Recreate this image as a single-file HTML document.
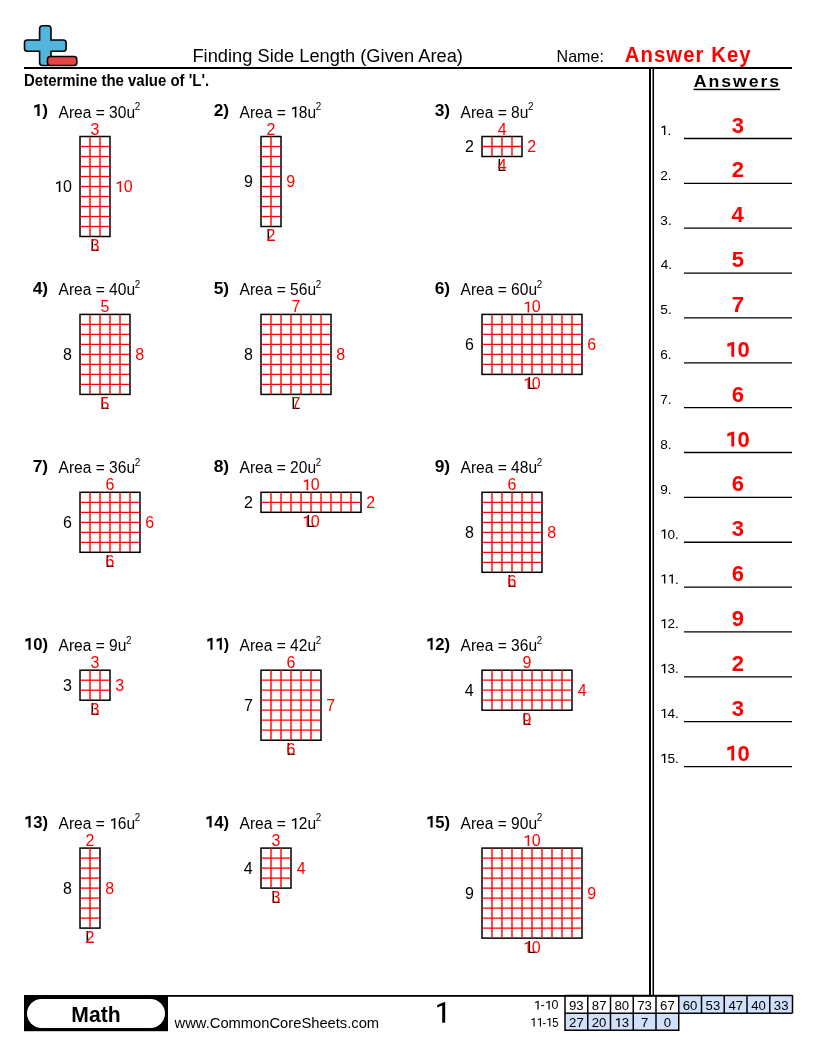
<!DOCTYPE html><html><head><meta charset="utf-8"><style>
html,body{margin:0;padding:0;background:#fff;}
body{width:816px;height:1056px;overflow:hidden;}
svg{display:block;font-family:"Liberation Sans",sans-serif;will-change:transform;}
</style></head><body>
<svg width="816" height="1056" viewBox="0 0 816 1056">
<path d="M42.6,25.8 h5.4 a3,3 0 0 1 3,3 v11.2 h12.3 a2.8,2.8 0 0 1 2.8,2.8 v5.7 a2.8,2.8 0 0 1 -2.8,2.8 h-12.3 v11.2 a3,3 0 0 1 -3,3 h-5.4 a3,3 0 0 1 -3,-3 v-11.2 h-12.3 a2.8,2.8 0 0 1 -2.8,-2.8 v-5.7 a2.8,2.8 0 0 1 2.8,-2.8 h12.3 v-11.2 a3,3 0 0 1 3,-3 z" fill="#52b5dc" stroke="#000" stroke-width="1.6"/>
<rect x="47.5" y="56.5" width="29.3" height="9" rx="2.8" fill="#e84444" stroke="#000" stroke-width="1.6"/>
<rect x="24.00" y="67.00" width="768.00" height="2.00" fill="#000"/>
<text x="192.44" y="61.80" font-size="19.20" fill="#000" textLength="270.50" lengthAdjust="spacingAndGlyphs">Finding Side Length (Given Area)</text>
<text x="556.62" y="62.00" font-size="16.20" fill="#000" textLength="47.23" lengthAdjust="spacingAndGlyphs">Name:</text>
<text transform="matrix(0.9100 0 0 1 624.79 62.00)" font-size="22.30" font-weight="bold" fill="#f00" letter-spacing="1.176">Answer Key</text>
<text x="24.03" y="85.60" font-size="16.40" font-weight="bold" fill="#000" textLength="185.18" lengthAdjust="spacingAndGlyphs">Determine the value of 'L'.</text>
<rect x="649.00" y="69.00" width="2.00" height="926.00" fill="#000"/>
<rect x="652.50" y="69.00" width="1.50" height="926.00" fill="#000"/>
<text transform="matrix(1.0400 0 0 1 693.66 87.30)" font-size="17.00" font-weight="bold" fill="#000" letter-spacing="1.893">Answers</text>
<rect x="693.50" y="88.70" width="86.70" height="1.50" fill="#000"/>
<line x1="684.00" y1="138.50" x2="792.00" y2="138.50" stroke="#000" stroke-width="1.30"/>
<path d="M665.32,134.90 V125.54 H664.91 L661.51,126.86 V128.13 L663.96,127.18 V134.90 Z" fill="#000"/>
<text x="659.88" y="134.90" font-size="13.60" fill="#000"> .</text>
<text x="731.80" y="132.50" font-size="22.00" font-weight="bold" fill="#f00">3</text>
<line x1="684.00" y1="183.36" x2="792.00" y2="183.36" stroke="#000" stroke-width="1.30"/>
<text x="660.22" y="179.76" font-size="13.60" fill="#000">2.</text>
<text x="731.75" y="177.36" font-size="22.00" font-weight="bold" fill="#f00">2</text>
<line x1="684.00" y1="228.22" x2="792.00" y2="228.22" stroke="#000" stroke-width="1.30"/>
<text x="660.36" y="224.62" font-size="13.60" fill="#000">3.</text>
<text x="731.58" y="222.22" font-size="22.00" font-weight="bold" fill="#f00">4</text>
<line x1="684.00" y1="273.08" x2="792.00" y2="273.08" stroke="#000" stroke-width="1.30"/>
<text x="660.63" y="269.48" font-size="13.60" fill="#000">4.</text>
<text x="731.64" y="267.08" font-size="22.00" font-weight="bold" fill="#f00">5</text>
<line x1="684.00" y1="317.94" x2="792.00" y2="317.94" stroke="#000" stroke-width="1.30"/>
<text x="660.36" y="314.34" font-size="13.60" fill="#000">5.</text>
<text x="731.69" y="311.94" font-size="22.00" font-weight="bold" fill="#f00">7</text>
<line x1="684.00" y1="362.80" x2="792.00" y2="362.80" stroke="#000" stroke-width="1.30"/>
<text x="660.22" y="359.20" font-size="13.60" fill="#000">6.</text>
<path d="M734.17,356.80 V341.66 H733.51 L727.35,343.42 V346.94 L731.31,345.18 V356.80 Z" fill="#f00"/>
<text x="725.37" y="356.80" font-size="22.00" font-weight="bold" fill="#f00"> 0</text>
<line x1="684.00" y1="407.66" x2="792.00" y2="407.66" stroke="#000" stroke-width="1.30"/>
<text x="660.22" y="404.06" font-size="13.60" fill="#000">7.</text>
<text x="731.69" y="401.66" font-size="22.00" font-weight="bold" fill="#f00">6</text>
<line x1="684.00" y1="452.52" x2="792.00" y2="452.52" stroke="#000" stroke-width="1.30"/>
<text x="660.29" y="448.92" font-size="13.60" fill="#000">8.</text>
<path d="M734.17,446.52 V431.38 H733.51 L727.35,433.14 V436.66 L731.31,434.90 V446.52 Z" fill="#f00"/>
<text x="725.37" y="446.52" font-size="22.00" font-weight="bold" fill="#f00"> 0</text>
<line x1="684.00" y1="497.38" x2="792.00" y2="497.38" stroke="#000" stroke-width="1.30"/>
<text x="660.29" y="493.78" font-size="13.60" fill="#000">9.</text>
<text x="731.69" y="491.38" font-size="22.00" font-weight="bold" fill="#f00">6</text>
<line x1="684.00" y1="542.24" x2="792.00" y2="542.24" stroke="#000" stroke-width="1.30"/>
<path d="M665.32,538.64 V529.28 H664.91 L661.51,530.60 V531.87 L663.96,530.92 V538.64 Z" fill="#000"/>
<text x="659.88" y="538.64" font-size="13.60" fill="#000"> 0.</text>
<text x="731.80" y="536.24" font-size="22.00" font-weight="bold" fill="#f00">3</text>
<line x1="684.00" y1="587.10" x2="792.00" y2="587.10" stroke="#000" stroke-width="1.30"/>
<path d="M665.32,583.50 V574.14 H664.91 L661.51,575.46 V576.73 L663.96,575.78 V583.50 Z" fill="#000"/>
<path d="M672.88,583.50 V574.14 H672.48 L669.08,575.46 V576.73 L671.52,575.78 V583.50 Z" fill="#000"/>
<text x="659.88" y="583.50" font-size="13.60" fill="#000">  .</text>
<text x="731.69" y="581.10" font-size="22.00" font-weight="bold" fill="#f00">6</text>
<line x1="684.00" y1="631.96" x2="792.00" y2="631.96" stroke="#000" stroke-width="1.30"/>
<path d="M665.32,628.36 V619.00 H664.91 L661.51,620.32 V621.59 L663.96,620.64 V628.36 Z" fill="#000"/>
<text x="659.88" y="628.36" font-size="13.60" fill="#000"> 2.</text>
<text x="731.69" y="625.96" font-size="22.00" font-weight="bold" fill="#f00">9</text>
<line x1="684.00" y1="676.82" x2="792.00" y2="676.82" stroke="#000" stroke-width="1.30"/>
<path d="M665.32,673.22 V663.86 H664.91 L661.51,665.18 V666.45 L663.96,665.50 V673.22 Z" fill="#000"/>
<text x="659.88" y="673.22" font-size="13.60" fill="#000"> 3.</text>
<text x="731.75" y="670.82" font-size="22.00" font-weight="bold" fill="#f00">2</text>
<line x1="684.00" y1="721.68" x2="792.00" y2="721.68" stroke="#000" stroke-width="1.30"/>
<path d="M665.32,718.08 V708.72 H664.91 L661.51,710.04 V711.31 L663.96,710.36 V718.08 Z" fill="#000"/>
<text x="659.88" y="718.08" font-size="13.60" fill="#000"> 4.</text>
<text x="731.80" y="715.68" font-size="22.00" font-weight="bold" fill="#f00">3</text>
<line x1="684.00" y1="766.54" x2="792.00" y2="766.54" stroke="#000" stroke-width="1.30"/>
<path d="M665.32,762.94 V753.58 H664.91 L661.51,754.90 V756.17 L663.96,755.22 V762.94 Z" fill="#000"/>
<text x="659.88" y="762.94" font-size="13.60" fill="#000"> 5.</text>
<path d="M734.17,760.54 V745.40 H733.51 L727.35,747.16 V750.68 L731.31,748.92 V760.54 Z" fill="#f00"/>
<text x="725.37" y="760.54" font-size="22.00" font-weight="bold" fill="#f00"> 0</text>
<path d="M39.59,116.00 V104.03 H39.07 L34.20,105.42 V108.20 L37.33,106.81 V116.00 Z" fill="#000"/>
<text x="32.63" y="116.00" font-size="17.40" font-weight="bold" fill="#000"> )</text>
<text x="58.50" y="117.50" font-size="16.00" fill="#000" textLength="76.60" lengthAdjust="spacingAndGlyphs">Area = 30u</text>
<text x="134.69" y="109.80" font-size="11.20" fill="#000" textLength="5.48" lengthAdjust="spacingAndGlyphs">2</text>
<rect x="80.00" y="136.50" width="30" height="100" fill="none" stroke="#000" stroke-width="1.5"/>
<line x1="90.00" y1="136.50" x2="90.00" y2="236.50" stroke="#f00" stroke-width="1.40"/>
<line x1="100.00" y1="136.50" x2="100.00" y2="236.50" stroke="#f00" stroke-width="1.40"/>
<line x1="80.00" y1="146.50" x2="110.00" y2="146.50" stroke="#f00" stroke-width="1.30"/>
<line x1="80.00" y1="156.50" x2="110.00" y2="156.50" stroke="#f00" stroke-width="1.30"/>
<line x1="80.00" y1="166.50" x2="110.00" y2="166.50" stroke="#f00" stroke-width="1.30"/>
<line x1="80.00" y1="176.50" x2="110.00" y2="176.50" stroke="#f00" stroke-width="1.30"/>
<line x1="80.00" y1="186.50" x2="110.00" y2="186.50" stroke="#f00" stroke-width="1.30"/>
<line x1="80.00" y1="196.50" x2="110.00" y2="196.50" stroke="#f00" stroke-width="1.30"/>
<line x1="80.00" y1="206.50" x2="110.00" y2="206.50" stroke="#f00" stroke-width="1.30"/>
<line x1="80.00" y1="216.50" x2="110.00" y2="216.50" stroke="#f00" stroke-width="1.30"/>
<line x1="80.00" y1="226.50" x2="110.00" y2="226.50" stroke="#f00" stroke-width="1.30"/>
<text x="90.56" y="134.50" font-size="16.00" fill="#f00">3</text>
<path d="M60.40,192.10 V181.09 H59.92 L55.92,182.64 V184.13 L58.80,183.01 V192.10 Z" fill="#000"/>
<text x="54.00" y="192.10" font-size="16.00" fill="#000"> 0</text>
<path d="M121.20,192.10 V181.09 H120.72 L116.72,182.64 V184.13 L119.60,183.01 V192.10 Z" fill="#f00"/>
<text x="114.80" y="192.10" font-size="16.00" fill="#f00"> 0</text>
<text x="90.16" y="251.00" font-size="16.00" fill="#000">L</text>
<text x="90.56" y="251.00" font-size="16.00" fill="#f00">3</text>
<text x="213.63" y="116.00" font-size="17.40" font-weight="bold" fill="#000">2)</text>
<path d="M296.35,117.50 V106.49 H295.89 L291.99,108.04 V109.53 L294.80,108.41 V117.50 Z" fill="#000"/>
<text x="239.50" y="117.50" font-size="16.00" fill="#000" textLength="76.60" lengthAdjust="spacingAndGlyphs">Area =  8u</text>
<text x="315.69" y="109.80" font-size="11.20" fill="#000" textLength="5.48" lengthAdjust="spacingAndGlyphs">2</text>
<rect x="261.00" y="136.50" width="20" height="90" fill="none" stroke="#000" stroke-width="1.5"/>
<line x1="271.00" y1="136.50" x2="271.00" y2="226.50" stroke="#f00" stroke-width="1.40"/>
<line x1="261.00" y1="146.50" x2="281.00" y2="146.50" stroke="#f00" stroke-width="1.30"/>
<line x1="261.00" y1="156.50" x2="281.00" y2="156.50" stroke="#f00" stroke-width="1.30"/>
<line x1="261.00" y1="166.50" x2="281.00" y2="166.50" stroke="#f00" stroke-width="1.30"/>
<line x1="261.00" y1="176.50" x2="281.00" y2="176.50" stroke="#f00" stroke-width="1.30"/>
<line x1="261.00" y1="186.50" x2="281.00" y2="186.50" stroke="#f00" stroke-width="1.30"/>
<line x1="261.00" y1="196.50" x2="281.00" y2="196.50" stroke="#f00" stroke-width="1.30"/>
<line x1="261.00" y1="206.50" x2="281.00" y2="206.50" stroke="#f00" stroke-width="1.30"/>
<line x1="261.00" y1="216.50" x2="281.00" y2="216.50" stroke="#f00" stroke-width="1.30"/>
<text x="266.56" y="134.50" font-size="16.00" fill="#f00">2</text>
<text x="244.04" y="187.10" font-size="16.00" fill="#000">9</text>
<text x="286.28" y="187.10" font-size="16.00" fill="#f00">9</text>
<text x="266.16" y="241.00" font-size="16.00" fill="#000">L</text>
<text x="266.56" y="241.00" font-size="16.00" fill="#f00">2</text>
<text x="434.63" y="116.00" font-size="17.40" font-weight="bold" fill="#000">3)</text>
<text x="460.50" y="117.50" font-size="16.00" fill="#000" textLength="67.94" lengthAdjust="spacingAndGlyphs">Area = 8u</text>
<text x="528.05" y="109.80" font-size="11.20" fill="#000" textLength="5.48" lengthAdjust="spacingAndGlyphs">2</text>
<rect x="482.00" y="136.50" width="40" height="20" fill="none" stroke="#000" stroke-width="1.5"/>
<line x1="492.00" y1="136.50" x2="492.00" y2="156.50" stroke="#f00" stroke-width="1.40"/>
<line x1="502.00" y1="136.50" x2="502.00" y2="156.50" stroke="#f00" stroke-width="1.40"/>
<line x1="512.00" y1="136.50" x2="512.00" y2="156.50" stroke="#f00" stroke-width="1.40"/>
<line x1="482.00" y1="146.50" x2="522.00" y2="146.50" stroke="#f00" stroke-width="1.30"/>
<text x="497.64" y="134.50" font-size="16.00" fill="#f00">4</text>
<text x="465.12" y="152.10" font-size="16.00" fill="#000">2</text>
<text x="527.20" y="152.10" font-size="16.00" fill="#f00">2</text>
<text x="497.16" y="171.00" font-size="16.00" fill="#000">L</text>
<text x="497.64" y="171.00" font-size="16.00" fill="#f00">4</text>
<text x="32.63" y="293.90" font-size="17.40" font-weight="bold" fill="#000">4)</text>
<text x="58.50" y="295.40" font-size="16.00" fill="#000" textLength="76.60" lengthAdjust="spacingAndGlyphs">Area = 40u</text>
<text x="134.69" y="287.70" font-size="11.20" fill="#000" textLength="5.48" lengthAdjust="spacingAndGlyphs">2</text>
<rect x="80.00" y="314.40" width="50" height="80" fill="none" stroke="#000" stroke-width="1.5"/>
<line x1="90.00" y1="314.40" x2="90.00" y2="394.40" stroke="#f00" stroke-width="1.40"/>
<line x1="100.00" y1="314.40" x2="100.00" y2="394.40" stroke="#f00" stroke-width="1.40"/>
<line x1="110.00" y1="314.40" x2="110.00" y2="394.40" stroke="#f00" stroke-width="1.40"/>
<line x1="120.00" y1="314.40" x2="120.00" y2="394.40" stroke="#f00" stroke-width="1.40"/>
<line x1="80.00" y1="324.40" x2="130.00" y2="324.40" stroke="#f00" stroke-width="1.30"/>
<line x1="80.00" y1="334.40" x2="130.00" y2="334.40" stroke="#f00" stroke-width="1.30"/>
<line x1="80.00" y1="344.40" x2="130.00" y2="344.40" stroke="#f00" stroke-width="1.30"/>
<line x1="80.00" y1="354.40" x2="130.00" y2="354.40" stroke="#f00" stroke-width="1.30"/>
<line x1="80.00" y1="364.40" x2="130.00" y2="364.40" stroke="#f00" stroke-width="1.30"/>
<line x1="80.00" y1="374.40" x2="130.00" y2="374.40" stroke="#f00" stroke-width="1.30"/>
<line x1="80.00" y1="384.40" x2="130.00" y2="384.40" stroke="#f00" stroke-width="1.30"/>
<text x="100.56" y="312.40" font-size="16.00" fill="#f00">5</text>
<text x="62.96" y="360.00" font-size="16.00" fill="#000">8</text>
<text x="135.28" y="360.00" font-size="16.00" fill="#f00">8</text>
<text x="100.16" y="408.90" font-size="16.00" fill="#000">L</text>
<text x="100.56" y="408.90" font-size="16.00" fill="#f00">5</text>
<text x="213.63" y="293.90" font-size="17.40" font-weight="bold" fill="#000">5)</text>
<text x="239.50" y="295.40" font-size="16.00" fill="#000" textLength="76.60" lengthAdjust="spacingAndGlyphs">Area = 56u</text>
<text x="315.69" y="287.70" font-size="11.20" fill="#000" textLength="5.48" lengthAdjust="spacingAndGlyphs">2</text>
<rect x="261.00" y="314.40" width="70" height="80" fill="none" stroke="#000" stroke-width="1.5"/>
<line x1="271.00" y1="314.40" x2="271.00" y2="394.40" stroke="#f00" stroke-width="1.40"/>
<line x1="281.00" y1="314.40" x2="281.00" y2="394.40" stroke="#f00" stroke-width="1.40"/>
<line x1="291.00" y1="314.40" x2="291.00" y2="394.40" stroke="#f00" stroke-width="1.40"/>
<line x1="301.00" y1="314.40" x2="301.00" y2="394.40" stroke="#f00" stroke-width="1.40"/>
<line x1="311.00" y1="314.40" x2="311.00" y2="394.40" stroke="#f00" stroke-width="1.40"/>
<line x1="321.00" y1="314.40" x2="321.00" y2="394.40" stroke="#f00" stroke-width="1.40"/>
<line x1="261.00" y1="324.40" x2="331.00" y2="324.40" stroke="#f00" stroke-width="1.30"/>
<line x1="261.00" y1="334.40" x2="331.00" y2="334.40" stroke="#f00" stroke-width="1.30"/>
<line x1="261.00" y1="344.40" x2="331.00" y2="344.40" stroke="#f00" stroke-width="1.30"/>
<line x1="261.00" y1="354.40" x2="331.00" y2="354.40" stroke="#f00" stroke-width="1.30"/>
<line x1="261.00" y1="364.40" x2="331.00" y2="364.40" stroke="#f00" stroke-width="1.30"/>
<line x1="261.00" y1="374.40" x2="331.00" y2="374.40" stroke="#f00" stroke-width="1.30"/>
<line x1="261.00" y1="384.40" x2="331.00" y2="384.40" stroke="#f00" stroke-width="1.30"/>
<text x="291.56" y="312.40" font-size="16.00" fill="#f00">7</text>
<text x="243.96" y="360.00" font-size="16.00" fill="#000">8</text>
<text x="336.28" y="360.00" font-size="16.00" fill="#f00">8</text>
<text x="291.16" y="408.90" font-size="16.00" fill="#000">L</text>
<text x="291.56" y="408.90" font-size="16.00" fill="#f00">7</text>
<text x="434.63" y="293.90" font-size="17.40" font-weight="bold" fill="#000">6)</text>
<text x="460.50" y="295.40" font-size="16.00" fill="#000" textLength="76.60" lengthAdjust="spacingAndGlyphs">Area = 60u</text>
<text x="536.69" y="287.70" font-size="11.20" fill="#000" textLength="5.48" lengthAdjust="spacingAndGlyphs">2</text>
<rect x="482.00" y="314.40" width="100" height="60" fill="none" stroke="#000" stroke-width="1.5"/>
<line x1="492.00" y1="314.40" x2="492.00" y2="374.40" stroke="#f00" stroke-width="1.40"/>
<line x1="502.00" y1="314.40" x2="502.00" y2="374.40" stroke="#f00" stroke-width="1.40"/>
<line x1="512.00" y1="314.40" x2="512.00" y2="374.40" stroke="#f00" stroke-width="1.40"/>
<line x1="522.00" y1="314.40" x2="522.00" y2="374.40" stroke="#f00" stroke-width="1.40"/>
<line x1="532.00" y1="314.40" x2="532.00" y2="374.40" stroke="#f00" stroke-width="1.40"/>
<line x1="542.00" y1="314.40" x2="542.00" y2="374.40" stroke="#f00" stroke-width="1.40"/>
<line x1="552.00" y1="314.40" x2="552.00" y2="374.40" stroke="#f00" stroke-width="1.40"/>
<line x1="562.00" y1="314.40" x2="562.00" y2="374.40" stroke="#f00" stroke-width="1.40"/>
<line x1="572.00" y1="314.40" x2="572.00" y2="374.40" stroke="#f00" stroke-width="1.40"/>
<line x1="482.00" y1="324.40" x2="582.00" y2="324.40" stroke="#f00" stroke-width="1.30"/>
<line x1="482.00" y1="334.40" x2="582.00" y2="334.40" stroke="#f00" stroke-width="1.30"/>
<line x1="482.00" y1="344.40" x2="582.00" y2="344.40" stroke="#f00" stroke-width="1.30"/>
<line x1="482.00" y1="354.40" x2="582.00" y2="354.40" stroke="#f00" stroke-width="1.30"/>
<line x1="482.00" y1="364.40" x2="582.00" y2="364.40" stroke="#f00" stroke-width="1.30"/>
<path d="M529.20,312.40 V301.39 H528.72 L524.72,302.94 V304.43 L527.60,303.31 V312.40 Z" fill="#f00"/>
<text x="522.80" y="312.40" font-size="16.00" fill="#f00"> 0</text>
<text x="464.96" y="350.00" font-size="16.00" fill="#000">6</text>
<text x="587.20" y="350.00" font-size="16.00" fill="#f00">6</text>
<text x="527.16" y="388.90" font-size="16.00" fill="#000">L</text>
<path d="M529.20,388.90 V377.89 H528.72 L524.72,379.44 V380.93 L527.60,379.81 V388.90 Z" fill="#f00"/>
<text x="522.80" y="388.90" font-size="16.00" fill="#f00"> 0</text>
<text x="32.63" y="471.80" font-size="17.40" font-weight="bold" fill="#000">7)</text>
<text x="58.50" y="473.30" font-size="16.00" fill="#000" textLength="76.60" lengthAdjust="spacingAndGlyphs">Area = 36u</text>
<text x="134.69" y="465.60" font-size="11.20" fill="#000" textLength="5.48" lengthAdjust="spacingAndGlyphs">2</text>
<rect x="80.00" y="492.30" width="60" height="60" fill="none" stroke="#000" stroke-width="1.5"/>
<line x1="90.00" y1="492.30" x2="90.00" y2="552.30" stroke="#f00" stroke-width="1.40"/>
<line x1="100.00" y1="492.30" x2="100.00" y2="552.30" stroke="#f00" stroke-width="1.40"/>
<line x1="110.00" y1="492.30" x2="110.00" y2="552.30" stroke="#f00" stroke-width="1.40"/>
<line x1="120.00" y1="492.30" x2="120.00" y2="552.30" stroke="#f00" stroke-width="1.40"/>
<line x1="130.00" y1="492.30" x2="130.00" y2="552.30" stroke="#f00" stroke-width="1.40"/>
<line x1="80.00" y1="502.30" x2="140.00" y2="502.30" stroke="#f00" stroke-width="1.30"/>
<line x1="80.00" y1="512.30" x2="140.00" y2="512.30" stroke="#f00" stroke-width="1.30"/>
<line x1="80.00" y1="522.30" x2="140.00" y2="522.30" stroke="#f00" stroke-width="1.30"/>
<line x1="80.00" y1="532.30" x2="140.00" y2="532.30" stroke="#f00" stroke-width="1.30"/>
<line x1="80.00" y1="542.30" x2="140.00" y2="542.30" stroke="#f00" stroke-width="1.30"/>
<text x="105.48" y="490.30" font-size="16.00" fill="#f00">6</text>
<text x="62.96" y="527.90" font-size="16.00" fill="#000">6</text>
<text x="145.20" y="527.90" font-size="16.00" fill="#f00">6</text>
<text x="105.16" y="566.80" font-size="16.00" fill="#000">L</text>
<text x="105.48" y="566.80" font-size="16.00" fill="#f00">6</text>
<text x="213.63" y="471.80" font-size="17.40" font-weight="bold" fill="#000">8)</text>
<text x="239.50" y="473.30" font-size="16.00" fill="#000" textLength="76.60" lengthAdjust="spacingAndGlyphs">Area = 20u</text>
<text x="315.69" y="465.60" font-size="11.20" fill="#000" textLength="5.48" lengthAdjust="spacingAndGlyphs">2</text>
<rect x="261.00" y="492.30" width="100" height="20" fill="none" stroke="#000" stroke-width="1.5"/>
<line x1="271.00" y1="492.30" x2="271.00" y2="512.30" stroke="#f00" stroke-width="1.40"/>
<line x1="281.00" y1="492.30" x2="281.00" y2="512.30" stroke="#f00" stroke-width="1.40"/>
<line x1="291.00" y1="492.30" x2="291.00" y2="512.30" stroke="#f00" stroke-width="1.40"/>
<line x1="301.00" y1="492.30" x2="301.00" y2="512.30" stroke="#f00" stroke-width="1.40"/>
<line x1="311.00" y1="492.30" x2="311.00" y2="512.30" stroke="#f00" stroke-width="1.40"/>
<line x1="321.00" y1="492.30" x2="321.00" y2="512.30" stroke="#f00" stroke-width="1.40"/>
<line x1="331.00" y1="492.30" x2="331.00" y2="512.30" stroke="#f00" stroke-width="1.40"/>
<line x1="341.00" y1="492.30" x2="341.00" y2="512.30" stroke="#f00" stroke-width="1.40"/>
<line x1="351.00" y1="492.30" x2="351.00" y2="512.30" stroke="#f00" stroke-width="1.40"/>
<line x1="261.00" y1="502.30" x2="361.00" y2="502.30" stroke="#f00" stroke-width="1.30"/>
<path d="M308.20,490.30 V479.29 H307.72 L303.72,480.84 V482.33 L306.60,481.21 V490.30 Z" fill="#f00"/>
<text x="301.80" y="490.30" font-size="16.00" fill="#f00"> 0</text>
<text x="244.12" y="507.90" font-size="16.00" fill="#000">2</text>
<text x="366.20" y="507.90" font-size="16.00" fill="#f00">2</text>
<text x="306.16" y="526.80" font-size="16.00" fill="#000">L</text>
<path d="M308.20,526.80 V515.79 H307.72 L303.72,517.34 V518.83 L306.60,517.71 V526.80 Z" fill="#f00"/>
<text x="301.80" y="526.80" font-size="16.00" fill="#f00"> 0</text>
<text x="434.63" y="471.80" font-size="17.40" font-weight="bold" fill="#000">9)</text>
<text x="460.50" y="473.30" font-size="16.00" fill="#000" textLength="76.60" lengthAdjust="spacingAndGlyphs">Area = 48u</text>
<text x="536.69" y="465.60" font-size="11.20" fill="#000" textLength="5.48" lengthAdjust="spacingAndGlyphs">2</text>
<rect x="482.00" y="492.30" width="60" height="80" fill="none" stroke="#000" stroke-width="1.5"/>
<line x1="492.00" y1="492.30" x2="492.00" y2="572.30" stroke="#f00" stroke-width="1.40"/>
<line x1="502.00" y1="492.30" x2="502.00" y2="572.30" stroke="#f00" stroke-width="1.40"/>
<line x1="512.00" y1="492.30" x2="512.00" y2="572.30" stroke="#f00" stroke-width="1.40"/>
<line x1="522.00" y1="492.30" x2="522.00" y2="572.30" stroke="#f00" stroke-width="1.40"/>
<line x1="532.00" y1="492.30" x2="532.00" y2="572.30" stroke="#f00" stroke-width="1.40"/>
<line x1="482.00" y1="502.30" x2="542.00" y2="502.30" stroke="#f00" stroke-width="1.30"/>
<line x1="482.00" y1="512.30" x2="542.00" y2="512.30" stroke="#f00" stroke-width="1.30"/>
<line x1="482.00" y1="522.30" x2="542.00" y2="522.30" stroke="#f00" stroke-width="1.30"/>
<line x1="482.00" y1="532.30" x2="542.00" y2="532.30" stroke="#f00" stroke-width="1.30"/>
<line x1="482.00" y1="542.30" x2="542.00" y2="542.30" stroke="#f00" stroke-width="1.30"/>
<line x1="482.00" y1="552.30" x2="542.00" y2="552.30" stroke="#f00" stroke-width="1.30"/>
<line x1="482.00" y1="562.30" x2="542.00" y2="562.30" stroke="#f00" stroke-width="1.30"/>
<text x="507.48" y="490.30" font-size="16.00" fill="#f00">6</text>
<text x="464.96" y="537.90" font-size="16.00" fill="#000">8</text>
<text x="547.28" y="537.90" font-size="16.00" fill="#f00">8</text>
<text x="507.16" y="586.80" font-size="16.00" fill="#000">L</text>
<text x="507.48" y="586.80" font-size="16.00" fill="#f00">6</text>
<path d="M30.63,649.70 V637.73 H30.13 L25.45,639.12 V641.90 L28.46,640.51 V649.70 Z" fill="#000"/>
<text x="23.95" y="649.70" font-size="17.40" font-weight="bold" fill="#000" textLength="24.14" lengthAdjust="spacingAndGlyphs"> 0)</text>
<text x="58.50" y="651.20" font-size="16.00" fill="#000" textLength="67.94" lengthAdjust="spacingAndGlyphs">Area = 9u</text>
<text x="126.05" y="643.50" font-size="11.20" fill="#000" textLength="5.48" lengthAdjust="spacingAndGlyphs">2</text>
<rect x="80.00" y="670.20" width="30" height="30" fill="none" stroke="#000" stroke-width="1.5"/>
<line x1="90.00" y1="670.20" x2="90.00" y2="700.20" stroke="#f00" stroke-width="1.40"/>
<line x1="100.00" y1="670.20" x2="100.00" y2="700.20" stroke="#f00" stroke-width="1.40"/>
<line x1="80.00" y1="680.20" x2="110.00" y2="680.20" stroke="#f00" stroke-width="1.30"/>
<line x1="80.00" y1="690.20" x2="110.00" y2="690.20" stroke="#f00" stroke-width="1.30"/>
<text x="90.56" y="668.20" font-size="16.00" fill="#f00">3</text>
<text x="62.96" y="690.80" font-size="16.00" fill="#000">3</text>
<text x="115.36" y="690.80" font-size="16.00" fill="#f00">3</text>
<text x="90.16" y="714.70" font-size="16.00" fill="#000">L</text>
<text x="90.56" y="714.70" font-size="16.00" fill="#f00">3</text>
<path d="M212.55,649.70 V637.73 H212.05 L207.37,639.12 V641.90 L210.38,640.51 V649.70 Z" fill="#000"/>
<path d="M221.84,649.70 V637.73 H221.34 L216.66,639.12 V641.90 L219.67,640.51 V649.70 Z" fill="#000"/>
<text x="205.87" y="649.70" font-size="17.40" font-weight="bold" fill="#000" textLength="23.22" lengthAdjust="spacingAndGlyphs">  )</text>
<text x="239.50" y="651.20" font-size="16.00" fill="#000" textLength="76.60" lengthAdjust="spacingAndGlyphs">Area = 42u</text>
<text x="315.69" y="643.50" font-size="11.20" fill="#000" textLength="5.48" lengthAdjust="spacingAndGlyphs">2</text>
<rect x="261.00" y="670.20" width="60" height="70" fill="none" stroke="#000" stroke-width="1.5"/>
<line x1="271.00" y1="670.20" x2="271.00" y2="740.20" stroke="#f00" stroke-width="1.40"/>
<line x1="281.00" y1="670.20" x2="281.00" y2="740.20" stroke="#f00" stroke-width="1.40"/>
<line x1="291.00" y1="670.20" x2="291.00" y2="740.20" stroke="#f00" stroke-width="1.40"/>
<line x1="301.00" y1="670.20" x2="301.00" y2="740.20" stroke="#f00" stroke-width="1.40"/>
<line x1="311.00" y1="670.20" x2="311.00" y2="740.20" stroke="#f00" stroke-width="1.40"/>
<line x1="261.00" y1="680.20" x2="321.00" y2="680.20" stroke="#f00" stroke-width="1.30"/>
<line x1="261.00" y1="690.20" x2="321.00" y2="690.20" stroke="#f00" stroke-width="1.30"/>
<line x1="261.00" y1="700.20" x2="321.00" y2="700.20" stroke="#f00" stroke-width="1.30"/>
<line x1="261.00" y1="710.20" x2="321.00" y2="710.20" stroke="#f00" stroke-width="1.30"/>
<line x1="261.00" y1="720.20" x2="321.00" y2="720.20" stroke="#f00" stroke-width="1.30"/>
<line x1="261.00" y1="730.20" x2="321.00" y2="730.20" stroke="#f00" stroke-width="1.30"/>
<text x="286.48" y="668.20" font-size="16.00" fill="#f00">6</text>
<text x="244.12" y="710.80" font-size="16.00" fill="#000">7</text>
<text x="326.20" y="710.80" font-size="16.00" fill="#f00">7</text>
<text x="286.16" y="754.70" font-size="16.00" fill="#000">L</text>
<text x="286.48" y="754.70" font-size="16.00" fill="#f00">6</text>
<path d="M432.63,649.70 V637.73 H432.13 L427.45,639.12 V641.90 L430.46,640.51 V649.70 Z" fill="#000"/>
<text x="425.95" y="649.70" font-size="17.40" font-weight="bold" fill="#000" textLength="24.14" lengthAdjust="spacingAndGlyphs"> 2)</text>
<text x="460.50" y="651.20" font-size="16.00" fill="#000" textLength="76.60" lengthAdjust="spacingAndGlyphs">Area = 36u</text>
<text x="536.69" y="643.50" font-size="11.20" fill="#000" textLength="5.48" lengthAdjust="spacingAndGlyphs">2</text>
<rect x="482.00" y="670.20" width="90" height="40" fill="none" stroke="#000" stroke-width="1.5"/>
<line x1="492.00" y1="670.20" x2="492.00" y2="710.20" stroke="#f00" stroke-width="1.40"/>
<line x1="502.00" y1="670.20" x2="502.00" y2="710.20" stroke="#f00" stroke-width="1.40"/>
<line x1="512.00" y1="670.20" x2="512.00" y2="710.20" stroke="#f00" stroke-width="1.40"/>
<line x1="522.00" y1="670.20" x2="522.00" y2="710.20" stroke="#f00" stroke-width="1.40"/>
<line x1="532.00" y1="670.20" x2="532.00" y2="710.20" stroke="#f00" stroke-width="1.40"/>
<line x1="542.00" y1="670.20" x2="542.00" y2="710.20" stroke="#f00" stroke-width="1.40"/>
<line x1="552.00" y1="670.20" x2="552.00" y2="710.20" stroke="#f00" stroke-width="1.40"/>
<line x1="562.00" y1="670.20" x2="562.00" y2="710.20" stroke="#f00" stroke-width="1.40"/>
<line x1="482.00" y1="680.20" x2="572.00" y2="680.20" stroke="#f00" stroke-width="1.30"/>
<line x1="482.00" y1="690.20" x2="572.00" y2="690.20" stroke="#f00" stroke-width="1.30"/>
<line x1="482.00" y1="700.20" x2="572.00" y2="700.20" stroke="#f00" stroke-width="1.30"/>
<text x="522.56" y="668.20" font-size="16.00" fill="#f00">9</text>
<text x="464.80" y="695.80" font-size="16.00" fill="#000">4</text>
<text x="577.68" y="695.80" font-size="16.00" fill="#f00">4</text>
<text x="522.16" y="724.70" font-size="16.00" fill="#000">L</text>
<text x="522.56" y="724.70" font-size="16.00" fill="#f00">9</text>
<path d="M30.63,827.60 V815.63 H30.13 L25.45,817.02 V819.80 L28.46,818.41 V827.60 Z" fill="#000"/>
<text x="23.95" y="827.60" font-size="17.40" font-weight="bold" fill="#000" textLength="24.14" lengthAdjust="spacingAndGlyphs"> 3)</text>
<path d="M115.35,829.10 V818.09 H114.89 L110.99,819.64 V821.13 L113.80,820.01 V829.10 Z" fill="#000"/>
<text x="58.50" y="829.10" font-size="16.00" fill="#000" textLength="76.60" lengthAdjust="spacingAndGlyphs">Area =  6u</text>
<text x="134.69" y="821.40" font-size="11.20" fill="#000" textLength="5.48" lengthAdjust="spacingAndGlyphs">2</text>
<rect x="80.00" y="848.10" width="20" height="80" fill="none" stroke="#000" stroke-width="1.5"/>
<line x1="90.00" y1="848.10" x2="90.00" y2="928.10" stroke="#f00" stroke-width="1.40"/>
<line x1="80.00" y1="858.10" x2="100.00" y2="858.10" stroke="#f00" stroke-width="1.30"/>
<line x1="80.00" y1="868.10" x2="100.00" y2="868.10" stroke="#f00" stroke-width="1.30"/>
<line x1="80.00" y1="878.10" x2="100.00" y2="878.10" stroke="#f00" stroke-width="1.30"/>
<line x1="80.00" y1="888.10" x2="100.00" y2="888.10" stroke="#f00" stroke-width="1.30"/>
<line x1="80.00" y1="898.10" x2="100.00" y2="898.10" stroke="#f00" stroke-width="1.30"/>
<line x1="80.00" y1="908.10" x2="100.00" y2="908.10" stroke="#f00" stroke-width="1.30"/>
<line x1="80.00" y1="918.10" x2="100.00" y2="918.10" stroke="#f00" stroke-width="1.30"/>
<text x="85.56" y="846.10" font-size="16.00" fill="#f00">2</text>
<text x="62.96" y="893.70" font-size="16.00" fill="#000">8</text>
<text x="105.28" y="893.70" font-size="16.00" fill="#f00">8</text>
<text x="85.16" y="942.60" font-size="16.00" fill="#000">L</text>
<text x="85.56" y="942.60" font-size="16.00" fill="#f00">2</text>
<path d="M211.63,827.60 V815.63 H211.13 L206.45,817.02 V819.80 L209.46,818.41 V827.60 Z" fill="#000"/>
<text x="204.95" y="827.60" font-size="17.40" font-weight="bold" fill="#000" textLength="24.14" lengthAdjust="spacingAndGlyphs"> 4)</text>
<path d="M296.35,829.10 V818.09 H295.89 L291.99,819.64 V821.13 L294.80,820.01 V829.10 Z" fill="#000"/>
<text x="239.50" y="829.10" font-size="16.00" fill="#000" textLength="76.60" lengthAdjust="spacingAndGlyphs">Area =  2u</text>
<text x="315.69" y="821.40" font-size="11.20" fill="#000" textLength="5.48" lengthAdjust="spacingAndGlyphs">2</text>
<rect x="261.00" y="848.10" width="30" height="40" fill="none" stroke="#000" stroke-width="1.5"/>
<line x1="271.00" y1="848.10" x2="271.00" y2="888.10" stroke="#f00" stroke-width="1.40"/>
<line x1="281.00" y1="848.10" x2="281.00" y2="888.10" stroke="#f00" stroke-width="1.40"/>
<line x1="261.00" y1="858.10" x2="291.00" y2="858.10" stroke="#f00" stroke-width="1.30"/>
<line x1="261.00" y1="868.10" x2="291.00" y2="868.10" stroke="#f00" stroke-width="1.30"/>
<line x1="261.00" y1="878.10" x2="291.00" y2="878.10" stroke="#f00" stroke-width="1.30"/>
<text x="271.56" y="846.10" font-size="16.00" fill="#f00">3</text>
<text x="243.80" y="873.70" font-size="16.00" fill="#000">4</text>
<text x="296.68" y="873.70" font-size="16.00" fill="#f00">4</text>
<text x="271.16" y="902.60" font-size="16.00" fill="#000">L</text>
<text x="271.56" y="902.60" font-size="16.00" fill="#f00">3</text>
<path d="M432.63,827.60 V815.63 H432.13 L427.45,817.02 V819.80 L430.46,818.41 V827.60 Z" fill="#000"/>
<text x="425.95" y="827.60" font-size="17.40" font-weight="bold" fill="#000" textLength="24.14" lengthAdjust="spacingAndGlyphs"> 5)</text>
<text x="460.50" y="829.10" font-size="16.00" fill="#000" textLength="76.60" lengthAdjust="spacingAndGlyphs">Area = 90u</text>
<text x="536.69" y="821.40" font-size="11.20" fill="#000" textLength="5.48" lengthAdjust="spacingAndGlyphs">2</text>
<rect x="482.00" y="848.10" width="100" height="90" fill="none" stroke="#000" stroke-width="1.5"/>
<line x1="492.00" y1="848.10" x2="492.00" y2="938.10" stroke="#f00" stroke-width="1.40"/>
<line x1="502.00" y1="848.10" x2="502.00" y2="938.10" stroke="#f00" stroke-width="1.40"/>
<line x1="512.00" y1="848.10" x2="512.00" y2="938.10" stroke="#f00" stroke-width="1.40"/>
<line x1="522.00" y1="848.10" x2="522.00" y2="938.10" stroke="#f00" stroke-width="1.40"/>
<line x1="532.00" y1="848.10" x2="532.00" y2="938.10" stroke="#f00" stroke-width="1.40"/>
<line x1="542.00" y1="848.10" x2="542.00" y2="938.10" stroke="#f00" stroke-width="1.40"/>
<line x1="552.00" y1="848.10" x2="552.00" y2="938.10" stroke="#f00" stroke-width="1.40"/>
<line x1="562.00" y1="848.10" x2="562.00" y2="938.10" stroke="#f00" stroke-width="1.40"/>
<line x1="572.00" y1="848.10" x2="572.00" y2="938.10" stroke="#f00" stroke-width="1.40"/>
<line x1="482.00" y1="858.10" x2="582.00" y2="858.10" stroke="#f00" stroke-width="1.30"/>
<line x1="482.00" y1="868.10" x2="582.00" y2="868.10" stroke="#f00" stroke-width="1.30"/>
<line x1="482.00" y1="878.10" x2="582.00" y2="878.10" stroke="#f00" stroke-width="1.30"/>
<line x1="482.00" y1="888.10" x2="582.00" y2="888.10" stroke="#f00" stroke-width="1.30"/>
<line x1="482.00" y1="898.10" x2="582.00" y2="898.10" stroke="#f00" stroke-width="1.30"/>
<line x1="482.00" y1="908.10" x2="582.00" y2="908.10" stroke="#f00" stroke-width="1.30"/>
<line x1="482.00" y1="918.10" x2="582.00" y2="918.10" stroke="#f00" stroke-width="1.30"/>
<line x1="482.00" y1="928.10" x2="582.00" y2="928.10" stroke="#f00" stroke-width="1.30"/>
<path d="M529.20,846.10 V835.09 H528.72 L524.72,836.64 V838.13 L527.60,837.01 V846.10 Z" fill="#f00"/>
<text x="522.80" y="846.10" font-size="16.00" fill="#f00"> 0</text>
<text x="465.04" y="898.70" font-size="16.00" fill="#000">9</text>
<text x="587.28" y="898.70" font-size="16.00" fill="#f00">9</text>
<text x="527.16" y="952.60" font-size="16.00" fill="#000">L</text>
<path d="M529.20,952.60 V941.59 H528.72 L524.72,943.14 V944.63 L527.60,943.51 V952.60 Z" fill="#f00"/>
<text x="522.80" y="952.60" font-size="16.00" fill="#f00"> 0</text>
<rect x="24.00" y="995.00" width="144.00" height="36.20" fill="#000"/>
<rect x="27" y="998.9" width="138" height="29.2" rx="14.6" fill="#fff"/>
<text x="71.33" y="1021.50" font-size="21.50" font-weight="bold" fill="#000" textLength="49.31" lengthAdjust="spacingAndGlyphs">Math</text>
<rect x="168.00" y="995.00" width="624.00" height="1.80" fill="#000"/>
<text x="174.60" y="1027.70" font-size="15.20" fill="#000" textLength="204.54" lengthAdjust="spacingAndGlyphs">www.CommonCoreSheets.com</text>
<path d="M442.2,1022.8 V1005.6 L437.2,1007.6 V1004.9 L444.4,1002.1 H445.2 V1022.8 Z" fill="#000"/>
<path d="M538.64,1009.40 V1000.80 H538.27 L535.16,1002.01 V1003.17 L537.40,1002.30 V1009.40 Z" fill="#000"/>
<path d="M549.70,1009.40 V1000.80 H549.32 L546.22,1002.01 V1003.17 L548.45,1002.30 V1009.40 Z" fill="#000"/>
<text x="533.67" y="1009.40" font-size="12.50" fill="#000" textLength="24.89" lengthAdjust="spacingAndGlyphs"> - 0</text>
<path d="M534.64,1026.60 V1018.00 H534.29 L531.42,1019.21 V1020.37 L533.49,1019.50 V1026.60 Z" fill="#000"/>
<path d="M541.03,1026.60 V1018.00 H540.69 L537.81,1019.21 V1020.37 L539.88,1019.50 V1026.60 Z" fill="#000"/>
<path d="M550.41,1026.60 V1018.00 H550.06 L547.19,1019.21 V1020.37 L549.26,1019.50 V1026.60 Z" fill="#000"/>
<text x="530.04" y="1026.60" font-size="12.50" fill="#000" textLength="28.56" lengthAdjust="spacingAndGlyphs">  - 5</text>
<rect x="678.75" y="996.00" width="22.75" height="17.50" fill="#cfe0fa"/>
<rect x="701.50" y="996.00" width="22.75" height="17.50" fill="#cfe0fa"/>
<rect x="724.25" y="996.00" width="22.75" height="17.50" fill="#cfe0fa"/>
<rect x="747.00" y="996.00" width="22.75" height="17.50" fill="#cfe0fa"/>
<rect x="769.75" y="996.00" width="22.75" height="17.50" fill="#cfe0fa"/>
<rect x="565.00" y="1013.50" width="22.75" height="17.00" fill="#cfe0fa"/>
<rect x="587.75" y="1013.50" width="22.75" height="17.00" fill="#cfe0fa"/>
<rect x="610.50" y="1013.50" width="22.75" height="17.00" fill="#cfe0fa"/>
<rect x="633.25" y="1013.50" width="22.75" height="17.00" fill="#cfe0fa"/>
<rect x="656.00" y="1013.50" width="22.75" height="17.00" fill="#cfe0fa"/>
<line x1="565.00" y1="995.50" x2="792.00" y2="995.50" stroke="#000" stroke-width="1.50"/>
<line x1="565.00" y1="1013.30" x2="792.00" y2="1013.30" stroke="#000" stroke-width="1.50"/>
<line x1="565.00" y1="1030.30" x2="678.75" y2="1030.30" stroke="#000" stroke-width="1.50"/>
<line x1="565.00" y1="995.00" x2="565.00" y2="1031.00" stroke="#000" stroke-width="1.50"/>
<line x1="587.75" y1="995.00" x2="587.75" y2="1031.00" stroke="#000" stroke-width="1.50"/>
<line x1="610.50" y1="995.00" x2="610.50" y2="1031.00" stroke="#000" stroke-width="1.50"/>
<line x1="633.25" y1="995.00" x2="633.25" y2="1031.00" stroke="#000" stroke-width="1.50"/>
<line x1="656.00" y1="995.00" x2="656.00" y2="1031.00" stroke="#000" stroke-width="1.50"/>
<line x1="678.75" y1="995.00" x2="678.75" y2="1031.00" stroke="#000" stroke-width="1.50"/>
<line x1="701.50" y1="995.00" x2="701.50" y2="1013.50" stroke="#000" stroke-width="1.50"/>
<line x1="724.25" y1="995.00" x2="724.25" y2="1013.50" stroke="#000" stroke-width="1.50"/>
<line x1="747.00" y1="995.00" x2="747.00" y2="1013.50" stroke="#000" stroke-width="1.50"/>
<line x1="769.75" y1="995.00" x2="769.75" y2="1013.50" stroke="#000" stroke-width="1.50"/>
<line x1="792.50" y1="995.00" x2="792.50" y2="1013.50" stroke="#000" stroke-width="1.50"/>
<text x="569.02" y="1009.60" font-size="13.20" fill="#000">93</text>
<text x="591.83" y="1009.60" font-size="13.20" fill="#000">87</text>
<text x="614.48" y="1009.60" font-size="13.20" fill="#000">80</text>
<text x="637.23" y="1009.60" font-size="13.20" fill="#000">73</text>
<text x="660.05" y="1009.60" font-size="13.20" fill="#000">67</text>
<text x="682.70" y="1009.60" font-size="13.20" fill="#000">60</text>
<text x="705.55" y="1009.60" font-size="13.20" fill="#000">53</text>
<text x="728.50" y="1009.60" font-size="13.20" fill="#000">47</text>
<text x="751.15" y="1009.60" font-size="13.20" fill="#000">40</text>
<text x="773.80" y="1009.60" font-size="13.20" fill="#000">33</text>
<text x="569.05" y="1027.00" font-size="13.20" fill="#000">27</text>
<text x="591.70" y="1027.00" font-size="13.20" fill="#000">20</text>
<path d="M619.60,1027.00 V1017.92 H619.20 L615.90,1019.20 V1020.43 L618.28,1019.50 V1027.00 Z" fill="#000"/>
<text x="614.32" y="1027.00" font-size="13.20" fill="#000"> 3</text>
<text x="640.96" y="1027.00" font-size="13.20" fill="#000">7</text>
<text x="663.68" y="1027.00" font-size="13.20" fill="#000">0</text>
</svg></body></html>
